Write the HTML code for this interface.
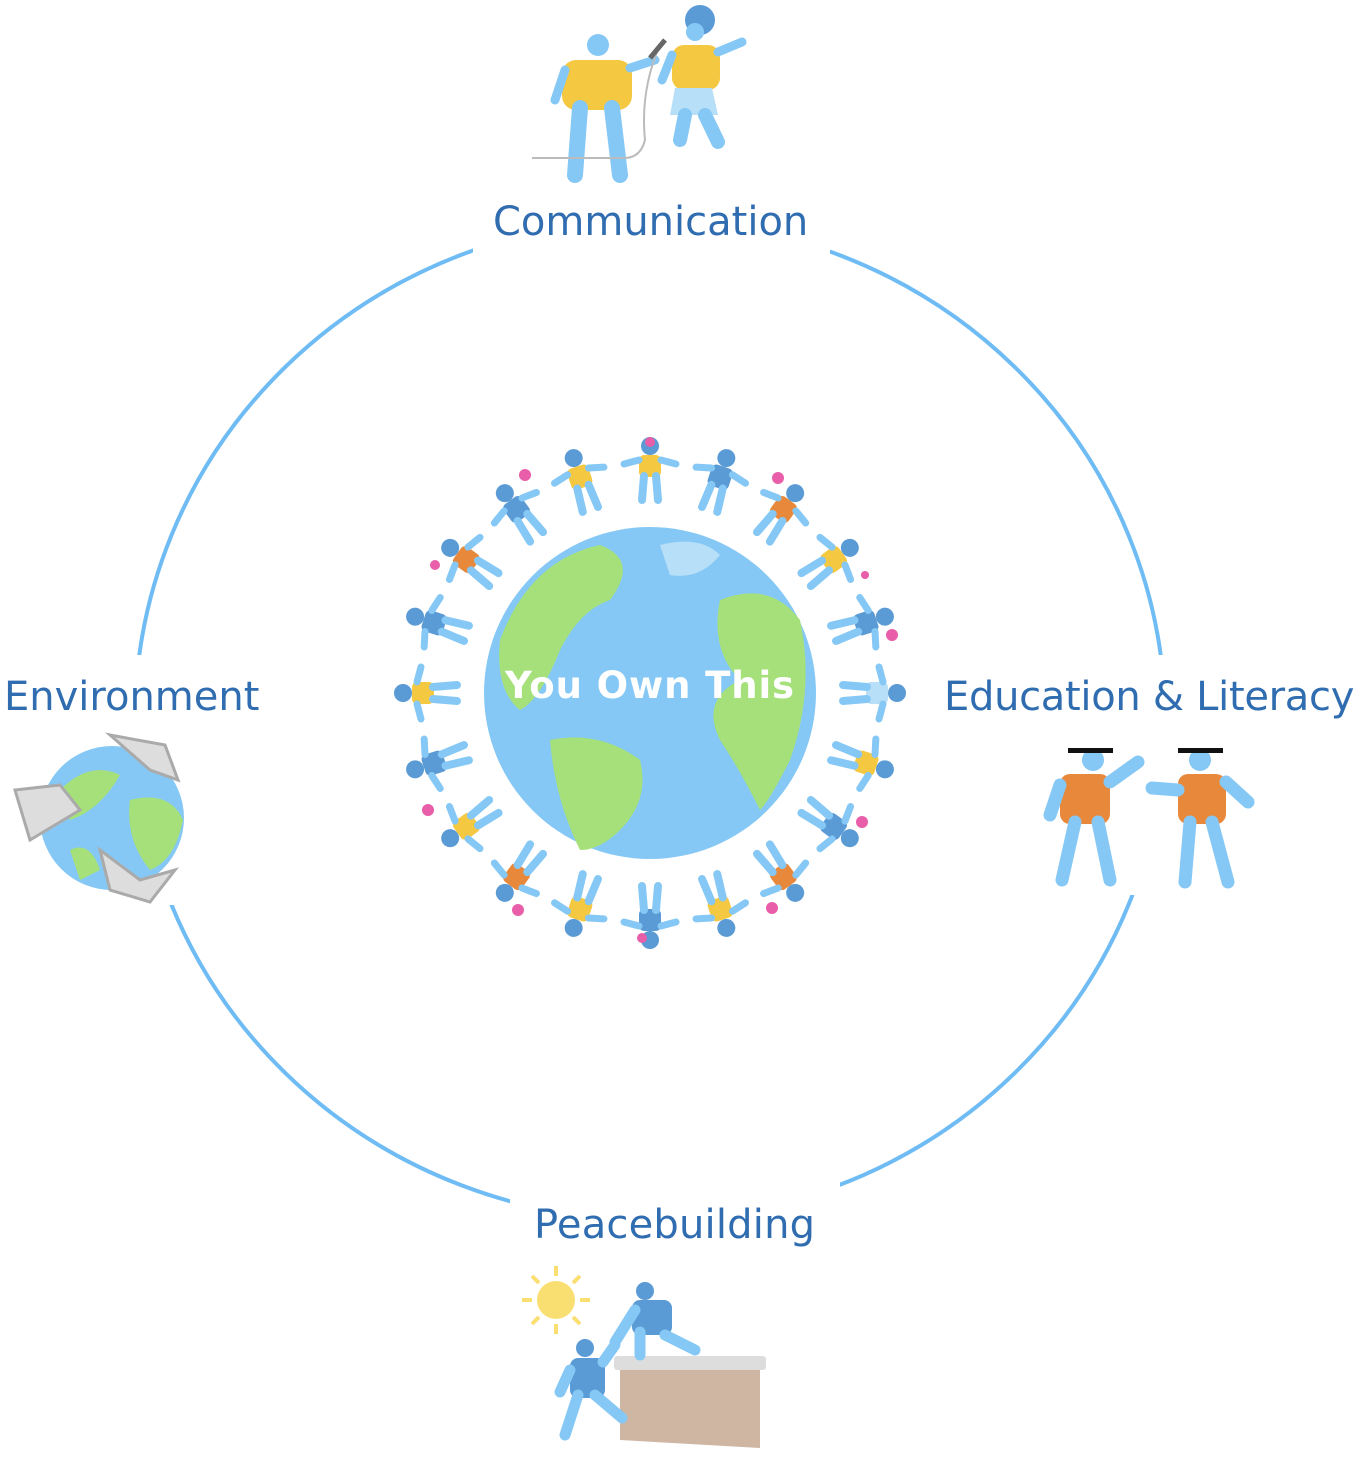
<!DOCTYPE html>
<html><head><meta charset="utf-8"><style>
html,body{margin:0;padding:0;background:#fff;}
body{width:1356px;height:1460px;position:relative;overflow:hidden;font-family:"DejaVu Sans","Liberation Sans",sans-serif;}
.lbl{position:absolute;color:#2f6db0;font-size:40px;white-space:nowrap;line-height:1;}
</style></head><body>
<svg width="1356" height="1460" style="position:absolute;left:0;top:0">
<defs>
<mask id="m"><rect width="1356" height="1460" fill="#fff"/>
<rect x="473" y="180" width="357" height="90" fill="#000"/>
<rect x="0" y="655" width="280" height="250" fill="#000"/>
<rect x="1080" y="655" width="276" height="240" fill="#000"/>
<rect x="510" y="1180" width="330" height="60" fill="#000"/>
</mask>
<g id="p">
<circle cx="0" cy="-24" r="9" fill="#5b9bd5"/>
<rect x="-11" y="-15" width="22" height="22" rx="5" fill="currentColor"/>
<path d="M-6 6 L-8 30 M6 6 L8 30" stroke="#86c8f5" stroke-width="8" stroke-linecap="round"/>
<path d="M-11 -10 L-26 -6 M11 -10 L26 -6" stroke="#86c8f5" stroke-width="7" stroke-linecap="round"/>
</g>
</defs>
<ellipse cx="650" cy="720" rx="515" ry="500" fill="none" stroke="#6fbcf5" stroke-width="4" mask="url(#m)"/>
<g>
<g style="color:#f5c842"><use href="#p" transform="translate(650,470)"/></g>
<g style="color:#5b9bd5"><use href="#p" transform="rotate(18 650 693) translate(650,470)"/></g>
<g style="color:#e8883a"><use href="#p" transform="rotate(36 650 693) translate(650,470)"/></g>
<g style="color:#f5c842"><use href="#p" transform="rotate(54 650 693) translate(650,470)"/></g>
<g style="color:#5b9bd5"><use href="#p" transform="rotate(72 650 693) translate(650,470)"/></g>
<g style="color:#b8dff8"><use href="#p" transform="rotate(90 650 693) translate(650,470)"/></g>
<g style="color:#f5c842"><use href="#p" transform="rotate(108 650 693) translate(650,470)"/></g>
<g style="color:#5b9bd5"><use href="#p" transform="rotate(126 650 693) translate(650,470)"/></g>
<g style="color:#e8883a"><use href="#p" transform="rotate(144 650 693) translate(650,470)"/></g>
<g style="color:#f5c842"><use href="#p" transform="rotate(162 650 693) translate(650,470)"/></g>
<g style="color:#5b9bd5"><use href="#p" transform="rotate(180 650 693) translate(650,470)"/></g>
<g style="color:#f5c842"><use href="#p" transform="rotate(198 650 693) translate(650,470)"/></g>
<g style="color:#e8883a"><use href="#p" transform="rotate(216 650 693) translate(650,470)"/></g>
<g style="color:#f5c842"><use href="#p" transform="rotate(234 650 693) translate(650,470)"/></g>
<g style="color:#5b9bd5"><use href="#p" transform="rotate(252 650 693) translate(650,470)"/></g>
<g style="color:#f5c842"><use href="#p" transform="rotate(270 650 693) translate(650,470)"/></g>
<g style="color:#5b9bd5"><use href="#p" transform="rotate(288 650 693) translate(650,470)"/></g>
<g style="color:#e8883a"><use href="#p" transform="rotate(306 650 693) translate(650,470)"/></g>
<g style="color:#5b9bd5"><use href="#p" transform="rotate(324 650 693) translate(650,470)"/></g>
<g style="color:#f5c842"><use href="#p" transform="rotate(342 650 693) translate(650,470)"/></g>
</g>
<g fill="#e85ea8"><circle cx="650" cy="442" r="5"/><circle cx="525" cy="475" r="6"/><circle cx="778" cy="478" r="6"/><circle cx="435" cy="565" r="5"/><circle cx="892" cy="635" r="6"/><circle cx="428" cy="810" r="6"/><circle cx="862" cy="822" r="6"/><circle cx="518" cy="910" r="6"/><circle cx="772" cy="908" r="6"/><circle cx="642" cy="938" r="5"/><circle cx="865" cy="575" r="4"/></g>
<circle cx="650" cy="693" r="166" fill="#86c8f5"/>
<path d="M500 640 Q530 560 600 545 Q640 560 610 600 Q580 610 560 650 Q540 700 520 710 Q495 690 500 640Z" fill="#a5e07a"/>
<path d="M550 740 Q600 730 640 760 Q650 800 620 830 Q600 850 580 850 Q555 800 550 740Z" fill="#a5e07a"/>
<path d="M720 600 Q770 580 800 620 Q815 690 790 760 Q770 800 760 810 Q740 770 720 740 Q700 700 740 680 Q710 650 720 600Z" fill="#a5e07a"/>
<path d="M660 545 Q700 535 720 555 Q700 580 670 575Z" fill="#b8dff8"/>
<g fill="#86c8f5">
<circle cx="598" cy="45" r="11"/><rect x="562" y="60" width="70" height="50" rx="14" fill="#f5c842"/>
<path d="M580 108 L575 175 M612 108 L620 175" stroke="#86c8f5" stroke-width="16" stroke-linecap="round"/>
<path d="M565 70 L555 100 M630 68 L655 60" stroke="#86c8f5" stroke-width="9" stroke-linecap="round"/>
<circle cx="700" cy="20" r="15" fill="#5b9bd5"/><circle cx="695" cy="32" r="9"/>
<rect x="672" y="45" width="48" height="45" rx="12" fill="#f5c842"/>
<path d="M675 88 L670 115 L718 115 L712 88Z" fill="#b8dff8"/>
<path d="M685 115 L680 140 M705 115 L718 142" stroke="#86c8f5" stroke-width="14" stroke-linecap="round"/>
<path d="M718 52 L742 42 M672 55 L662 80" stroke="#86c8f5" stroke-width="9" stroke-linecap="round"/>
<path d="M660 45 Q640 90 645 140 Q640 160 620 158 L532 158" fill="none" stroke="#bbb" stroke-width="2"/>
<path d="M650 58 L665 40" stroke="#666" stroke-width="5"/>
</g>
<circle cx="112" cy="818" r="72" fill="#86c8f5"/>
<path d="M60 790 Q90 760 120 775 Q100 810 70 820Z M130 800 Q170 790 183 820 Q175 860 150 870 Q125 840 130 800Z M70 850 Q90 840 100 870 L80 880Z" fill="#a5e07a"/>
<path d="M110 735 L165 745 L178 780 L150 770 Z M15 790 L60 785 L80 810 L30 840 Z M100 850 L140 880 L175 870 L150 902 L110 890Z" fill="#ddd" stroke="#aaa" stroke-width="3"/>
<g>
<circle cx="1093" cy="760" r="11" fill="#86c8f5"/><rect x="1068" y="748" width="45" height="5" fill="#111"/>
<rect x="1060" y="774" width="50" height="50" rx="10" fill="#e8883a"/>
<path d="M1075 822 L1062 880 M1098 822 L1110 880 M1060 785 L1050 815 M1110 782 L1138 762" stroke="#86c8f5" stroke-width="13" stroke-linecap="round"/>
<circle cx="1200" cy="760" r="11" fill="#86c8f5"/><rect x="1178" y="748" width="45" height="5" fill="#111"/>
<rect x="1178" y="774" width="48" height="50" rx="10" fill="#e8883a"/>
<path d="M1190 822 L1185 882 M1212 822 L1228 882 M1178 790 L1152 788 M1226 782 L1248 802" stroke="#86c8f5" stroke-width="13" stroke-linecap="round"/>
</g>
<g>
<circle cx="556" cy="1300" r="19" fill="#f9df72"/>
<g stroke="#f9df72" stroke-width="4"><path d="M556 1266 L556 1276 M556 1324 L556 1334 M522 1300 L532 1300 M580 1300 L590 1300 M532 1276 L539 1283 M573 1317 L580 1324 M580 1276 L573 1283 M532 1324 L539 1317"/></g>
<path d="M620 1362 L760 1362 L760 1448 L620 1440Z" fill="#cfb6a3"/>
<rect x="614" y="1356" width="152" height="14" rx="3" fill="#ddd"/>
<circle cx="645" cy="1291" r="9" fill="#5b9bd5"/><rect x="632" y="1300" width="40" height="35" rx="8" fill="#5b9bd5"/>
<path d="M640 1332 L640 1355 M665 1335 L695 1350 M635 1310 L615 1342" stroke="#86c8f5" stroke-width="11" stroke-linecap="round"/>
<circle cx="585" cy="1348" r="9" fill="#5b9bd5"/><rect x="570" y="1358" width="35" height="40" rx="8" fill="#5b9bd5"/>
<path d="M578 1395 L565 1435 M595 1395 L622 1418 M570 1370 L560 1392 M603 1362 L615 1345" stroke="#86c8f5" stroke-width="11" stroke-linecap="round"/>
</g>
</svg>
<div class="lbl" style="left:493px;top:202px;letter-spacing:0px">Communication</div>
<div class="lbl" style="left:4px;top:677px;letter-spacing:0px">Environment</div>
<div class="lbl" style="left:944px;top:677px;letter-spacing:-0.3px">Education &amp; Literacy</div>
<div class="lbl" style="left:534px;top:1205px;letter-spacing:0.2px">Peacebuilding</div>
<div class="lbl" style="left:505px;top:667px;color:#fff;font-weight:bold;font-size:37px;letter-spacing:0.9px">You Own This</div>
</body></html>
